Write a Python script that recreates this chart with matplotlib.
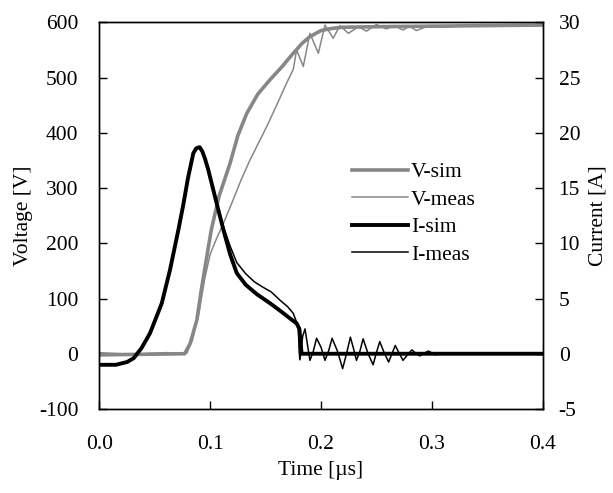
import matplotlib
matplotlib.use("Agg")
import matplotlib.pyplot as plt

plt.rcParams['font.family'] = ['Liberation Serif', 'DejaVu Serif']
plt.rcParams['axes.unicode_minus'] = False

# ---- data (time in us) ----
t_vsim = [0, 0.077, 0.082, 0.088, 0.092, 0.095, 0.101, 0.108, 0.118, 0.125, 0.133,
          0.143, 0.154, 0.165, 0.175, 0.183, 0.19, 0.2, 0.21, 0.22, 0.25, 0.3, 0.35, 0.4]
v_sim = [-2, 0, 19, 61, 115, 152, 224, 285, 345, 395, 435,
         470, 496, 520, 544, 562, 574, 585, 589, 591, 592, 593, 594, 595]

t_vmeas = [0, 0.03, 0.06, 0.079, 0.084, 0.09, 0.095, 0.1, 0.105, 0.112, 0.12, 0.128,
           0.136, 0.144, 0.151, 0.16, 0.169, 0.175, 0.178, 0.184, 0.190, 0.1976,
           0.2036, 0.211, 0.217, 0.2247, 0.2337, 0.241, 0.25, 0.259, 0.266, 0.274,
           0.28, 0.286, 0.295, 0.31, 0.33, 0.36, 0.4]
v_meas = [2, -1, 2, 1, 25, 75, 135, 180, 205, 236, 275, 315,
          351, 383, 411, 450, 490, 515, 550, 520, 580, 544,
          595, 571, 594, 580, 592, 584, 596, 588, 594, 586,
          593, 585, 592, 591, 594, 593, 594]

t_isim = [0, 0.015, 0.025, 0.031, 0.038, 0.0457, 0.0563, 0.0638, 0.0713, 0.0758, 0.080,
          0.0848, 0.0875, 0.0905, 0.093, 0.0955, 0.0983, 0.1059, 0.112, 0.118, 0.124,
          0.132, 0.142, 0.155, 0.165, 0.172, 0.178, 0.1805, 0.1825, 0.4]
i_sim = [-1.0, -1.0, -0.75, -0.4, 0.5, 1.85, 4.55, 7.6, 11.2, 13.5, 15.9,
         18.15, 18.6, 18.7, 18.3, 17.6, 16.65, 13.6, 11.2, 9.0, 7.3,
         6.25, 5.4, 4.5, 3.75, 3.2, 2.75, 2.25, 0.0, 0.0]

t_imeas = [0, 0.015, 0.025, 0.031, 0.038, 0.0457, 0.0563, 0.0638, 0.0713, 0.0758, 0.080,
           0.0848, 0.0875, 0.0905, 0.093, 0.0955, 0.0983, 0.1059, 0.112, 0.118, 0.124,
           0.132, 0.14, 0.148, 0.155, 0.163, 0.17, 0.175, 0.1795, 0.1803, 0.181,
           0.1835, 0.1856, 0.1875, 0.190, 0.193, 0.196, 0.2, 0.2036, 0.207, 0.210,
           0.215, 0.2195, 0.223, 0.2265, 0.229, 0.232, 0.235, 0.238, 0.2425, 0.247,
           0.250, 0.253, 0.257, 0.261, 0.264, 0.267, 0.2705, 0.274, 0.278, 0.282,
           0.2855, 0.289, 0.293, 0.297, 0.303, 0.31, 0.32, 0.33, 0.35, 0.4]
i_meas = [-1.0, -1.0, -0.75, -0.4, 0.5, 1.85, 4.55, 7.6, 11.2, 13.5, 15.9,
          18.15, 18.6, 18.7, 18.3, 17.6, 16.65, 13.75, 11.5, 9.75, 8.25,
          7.25, 6.5, 6.0, 5.6, 4.85, 4.25, 3.65, 2.45, 0.2, -0.55,
          1.6, 2.25, 1.0, -0.6, 0.2, 1.4, 0.6, -0.6, 0.3, 1.4,
          0.2, -1.35, 0.0, 1.5, 0.6, -0.6, 0.2, 1.35, 0.0, -1.0,
          0.1, 1.1, 0.1, -0.75, 0.0, 0.75, 0.05, -0.6, -0.1, 0.35,
          0.05, -0.2, 0.05, 0.25, -0.1, 0.1, -0.05, 0.05, 0.0, 0.0]

x_ticks = [0.0, 0.1, 0.2, 0.3, 0.4]
v_ticks = [-100, 0, 100, 200, 300, 400, 500, 600]
i_ticks = [-5, 0, 5, 10, 15, 20, 25, 30]

grey = '#878787'
fs = 15.5

fig = plt.figure(figsize=(6.13, 4.93), dpi=100)
ax = fig.add_axes([0.162, 0.1704, 0.7233, 0.7844])
ax2 = ax.twinx()

l1, = ax.plot(t_vsim, v_sim, color=grey, lw=2.6, label='V-sim')
l2, = ax.plot(t_vmeas, v_meas, color=grey, lw=1.1, label='V-meas')
l3, = ax2.plot(t_isim, i_sim, color='black', lw=2.8, label='I-sim')
l4, = ax2.plot(t_imeas, i_meas, color='black', lw=1.1, label='I-meas')

ax.set_xlim(0, 0.4)
ax.set_ylim(-100, 600)
ax2.set_ylim(-5, 30)
ax.set_xticks(x_ticks)
ax.set_xticklabels([f'{v:.1f}' for v in x_ticks])
ax.set_yticks(v_ticks)
ax2.set_yticks(i_ticks)

for a in (ax, ax2):
    a.tick_params(direction='in', length=5.5, width=1.0, labelsize=fs)
    for s in a.spines.values():
        s.set_linewidth(1.0)
ax.tick_params(axis='y', right=False, pad=15)
ax.tick_params(axis='x', pad=19)
ax2.tick_params(axis='y', pad=11.5)

ax.set_xlabel('Time [µs]', fontsize=fs, labelpad=5)
ax.set_ylabel('Voltage [V]', fontsize=fs, labelpad=4)
ax2.set_ylabel('Current [A]', fontsize=fs, labelpad=6)

leg = ax2.legend(handles=[l1, l2, l3, l4], loc='center left',
                 bbox_to_anchor=(0.569, 0.5056), frameon=False, fontsize=fs,
                 handlelength=2.6, handletextpad=0.15, labelspacing=0.34,
                 borderpad=0, borderaxespad=0)

fig.savefig('out.png', dpi=100)
